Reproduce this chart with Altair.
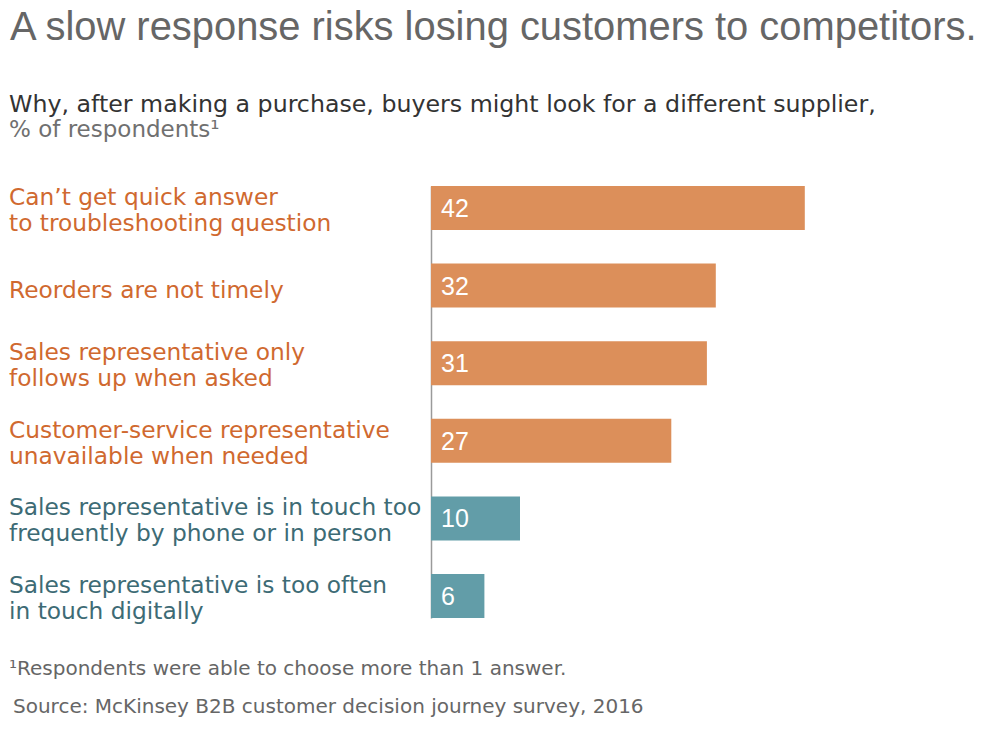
import altair as alt
import pandas as pd

title_text = "A slow response risks losing customers to competitors."
subtitle_1 = "Why, after making a purchase, buyers might look for a different supplier,"
subtitle_2 = "% of respondents¹"
footnote = "¹Respondents were able to choose more than 1 answer."
source = "Source: McKinsey B2B customer decision journey survey, 2016"

categories = [
    "Can’t get quick answer|to troubleshooting question",
    "Reorders are not timely",
    "Sales representative only|follows up when asked",
    "Customer-service representative|unavailable when needed",
    "Sales representative is in touch too|frequently by phone or in person",
    "Sales representative is too often|in touch digitally",
]
values = [42, 32, 31, 27, 10, 6]
groups = ["service", "service", "service", "service", "contact", "contact"]

ORANGE_BAR = "#DC8F5A"
TEAL_BAR = "#629DA8"
ORANGE_TXT = "#D0692F"
TEAL_TXT = "#3D6B75"

df = pd.DataFrame({"cat": categories, "v": values, "g": groups})

y_scale = alt.Scale(paddingInner=0.433, paddingOuter=0)

bars = alt.Chart(df).mark_bar().encode(
    y=alt.Y(
        "cat:N", sort=categories, title=None, scale=y_scale,
        axis=alt.Axis(labels=False, ticks=False, tickSize=0, grid=False,
                      domainColor="#9a9a9a", domainWidth=1.5),
    ),
    x=alt.X("v:Q", axis=None, scale=alt.Scale(domain=[0, 50])),
    color=alt.Color("g:N", scale=alt.Scale(domain=["service", "contact"], range=[ORANGE_BAR, TEAL_BAR]), legend=None),
)

vals = alt.Chart(df).mark_text(
    align="left", baseline="middle", dx=10, dy=1, color="white",
    font="Liberation Sans", fontSize=25,
).encode(
    y=alt.Y("cat:N", sort=categories),
    x=alt.datum(0),
    text=alt.Text("v:Q"),
)

label_color = alt.condition("datum.g == 'contact'", alt.value(TEAL_TXT), alt.value(ORANGE_TXT))

def cat_labels(test, dy):
    return alt.Chart(df).transform_filter(test).mark_text(
        align="left", baseline="alphabetic", font="DejaVu Sans", fontSize=23.3,
        lineBreak="|", lineHeight=26, dy=dy,
    ).encode(
        y=alt.Y("cat:N", sort=categories),
        x=alt.value(-422),
        text="cat:N",
        color=label_color,
    )

lab_multi = cat_labels("indexof(datum.cat, '|') >= 0", -3)
lab_single = cat_labels("indexof(datum.cat, '|') < 0", 12)

def txt(s, x, y, size, color, font="Liberation Sans"):
    return alt.Chart(pd.DataFrame({"t": [s]})).mark_text(
        align="left", baseline="alphabetic", font=font, fontSize=size, color=color
    ).encode(text="t:N", x=alt.value(x), y=alt.value(y))

t1 = txt(title_text, -421, -146, 39.9, "#666666")
t2 = txt(subtitle_1, -422, -74, 23.7, "#333333", "DejaVu Sans")
t3 = txt(subtitle_2, -422, -49, 23, "#707070", "DejaVu Sans")
t4 = txt(footnote, -422, 489, 20, "#666666", "DejaVu Sans")
t5 = txt(source, -418, 527, 20, "#666666", "DejaVu Sans")

chart = alt.layer(bars, vals, lab_multi, lab_single, t1, t2, t3, t4, t5).properties(
    width=445,
    height=432,
    autosize=alt.AutoSizeParams(type="none"),
    padding={"left": 423, "top": 178, "right": 116, "bottom": 100},
).configure(background="white").configure_view(stroke=None)

chart.save("out.html", embed_options={"renderer": "svg", "actions": False})
